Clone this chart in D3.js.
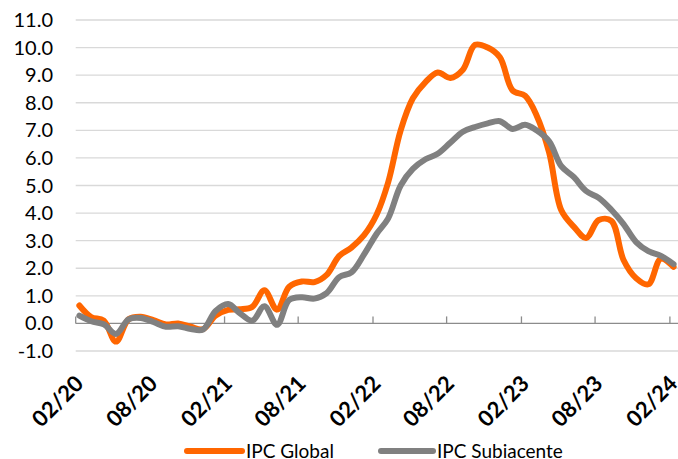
<!DOCTYPE html>
<html>
<head>
<meta charset="utf-8">
<script src="https://cdn.jsdelivr.net/npm/d3@7"></script>
<style>
  body { margin: 0; background: #fff; }
  svg { display: block; font-family: Lato, 'Open Sans', sans-serif; }
</style>
</head>
<body>
<div id="chart"></div>
<script>
// Monthly readings, Feb 2020 .. Feb 2024
const tickLabels = ['02/20', '08/20', '02/21', '08/21', '02/22', '08/22', '02/23', '08/23', '02/24'];
const yTicks = [-1, 0, 1, 2, 3, 4, 5, 6, 7, 8, 9, 10, 11];

const ipcGlobal = [
  0.65, 0.23, 0.10, -0.66, 0.15, 0.24, 0.12, -0.04, 0.00, -0.12,
  -0.21, 0.28, 0.49, 0.51, 0.60, 1.20, 0.50, 1.33, 1.52, 1.50,
  1.76, 2.45, 2.75, 3.20, 3.95, 5.10, 7.00, 8.16, 8.75, 9.10,
  8.90, 9.20, 10.10, 10.00, 9.65, 8.45, 8.25, 7.55, 6.20, 4.10,
  3.50, 3.10, 3.75, 3.72, 2.30, 1.64, 1.42, 2.35, 2.05
];

const ipcSubyacente = [
  0.28, 0.08, -0.03, -0.38, 0.15, 0.20, 0.05, -0.12, -0.10, -0.20,
  -0.22, 0.45, 0.70, 0.38, 0.10, 0.62, -0.05, 0.85, 0.95, 0.90,
  1.10, 1.68, 1.85, 2.50, 3.25, 3.80, 5.00, 5.60, 5.95, 6.15,
  6.55, 6.95, 7.12, 7.25, 7.33, 7.05, 7.20, 7.00, 6.60, 5.70,
  5.30, 4.80, 4.55, 4.12, 3.60, 2.95, 2.62, 2.45, 2.15
];

const series = [
  { name: 'IPC Global', values: ipcGlobal, color: '#ff6600' },
  { name: 'IPC Subiacente', values: ipcSubyacente, color: '#808080' }
];

const width = 678;
const height = 459;

// readings are dated early in each month
const dates = ipcGlobal.map((_, i) => new Date(2020, 1 + i, 10));
const tickDates = tickLabels.map((_, i) => new Date(2020, 1 + i * 6, 1));

const x = d3.scaleTime()
  .domain([new Date(2020, 1, 1), new Date(2024, 1, 1)])
  .range([75.7, 669.9]);

const y = d3.scaleLinear()
  .domain([-1, 11])
  .range([351, 20]);

const svg = d3.select('#chart')
  .append('svg')
  .attr('width', width)
  .attr('height', height);

// Gridlines
svg.append('g')
  .selectAll('line')
  .data(yTicks.filter(d => d !== 0))
  .join('line')
  .attr('x1', x.range()[0])
  .attr('x2', width + 20)
  .attr('y1', d => y(d))
  .attr('y2', d => y(d))
  .attr('stroke', '#d9d9d9')
  .attr('stroke-width', 1.4);

// Y labels
svg.append('g')
  .selectAll('text')
  .data(yTicks)
  .join('text')
  .attr('x', 53)
  .attr('y', d => y(d) + 7)
  .attr('text-anchor', 'end')
  .attr('font-size', '20px')
  .attr('fill', '#000')
  .text(d => d.toFixed(1));

// Zero axis with inside ticks
svg.append('line')
  .attr('x1', x.range()[0])
  .attr('x2', width + 20)
  .attr('y1', y(0))
  .attr('y2', y(0))
  .attr('stroke', '#8c8c8c')
  .attr('stroke-width', 1.3);

svg.append('g')
  .selectAll('line')
  .data(tickDates)
  .join('line')
  .attr('x1', d => x(d))
  .attr('x2', d => x(d))
  .attr('y1', y(0))
  .attr('y2', y(0) - 7)
  .attr('stroke', '#8c8c8c')
  .attr('stroke-width', 1.3);

// X labels, rotated
svg.append('g')
  .selectAll('text')
  .data(tickDates)
  .join('text')
  .attr('transform', d => `translate(${x(d) + 9},${385}) rotate(-45)`)
  .attr('text-anchor', 'end')
  .attr('font-size', '22px')
  .attr('font-weight', 'bold')
  .attr('fill', '#000')
  .text((d, i) => tickLabels[i]);

// Lines
const line = d3.line()
  .x((d, i) => x(dates[i]))
  .y(d => y(d))
  .curve(d3.curveCatmullRom.alpha(0.5));

svg.append('g')
  .selectAll('path')
  .data(series)
  .join('path')
  .attr('d', d => line(d.values))
  .attr('fill', 'none')
  .attr('stroke', d => d.color)
  .attr('stroke-width', 6)
  .attr('stroke-linejoin', 'round')
  .attr('stroke-linecap', 'round');

// Legend
const legendX = [187, 381];
const legend = svg.append('g')
  .selectAll('g')
  .data(series)
  .join('g')
  .attr('transform', (d, i) => `translate(${legendX[i]},451)`);

legend.append('line')
  .attr('x1', 0)
  .attr('x2', (d, i) => i === 0 ? 55 : 52)
  .attr('stroke', d => d.color)
  .attr('stroke-width', 6)
  .attr('stroke-linecap', 'round');

legend.append('text')
  .attr('x', (d, i) => i === 0 ? 59 : 56)
  .attr('y', 7)
  .attr('font-size', '19px')
  .attr('fill', '#000')
  .text(d => d.name);
</script>
</body>
</html>
